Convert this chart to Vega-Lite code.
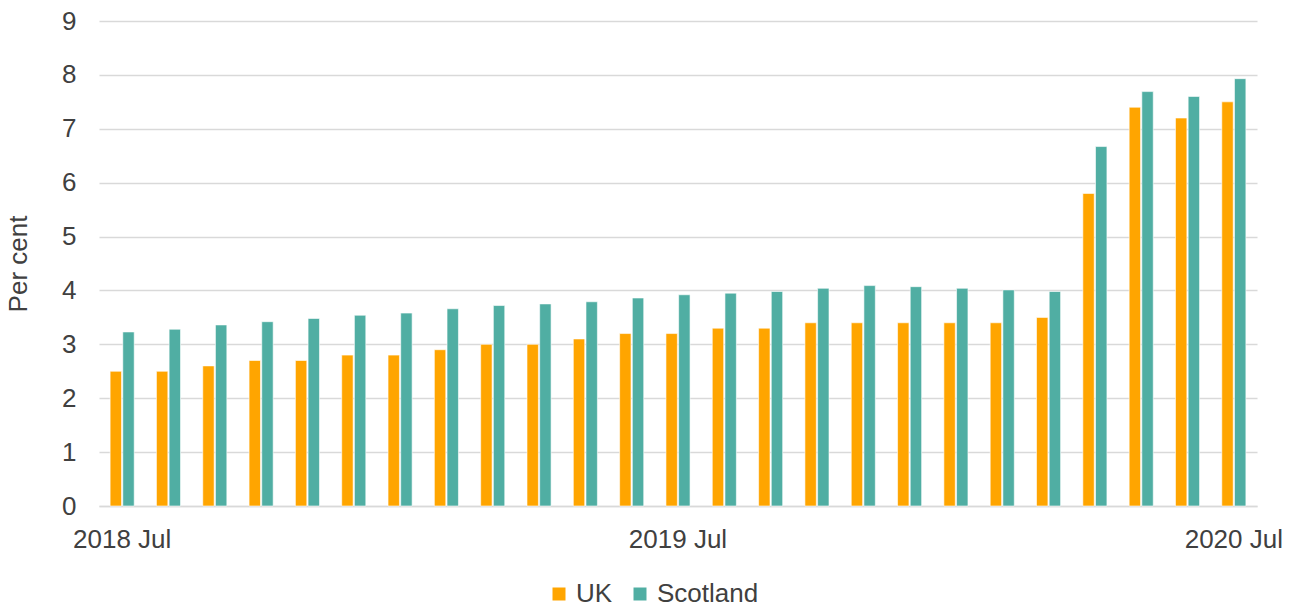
{
  "$schema": "https://vega.github.io/schema/vega-lite/v6.json",
  "width": 1158,
  "height": 485,
  "autosize": {"type": "none"},
  "padding": {"left": 99, "top": 21, "right": 39, "bottom": 100},
  "background": "white",
  "config": {
    "font": "Liberation Sans",
    "view": {"stroke": null}
  },
  "data": {
    "values": [
      {"month": "2018 Jul", "series": "UK", "value": 2.5}, {"month": "2018 Jul", "series": "Scotland", "value": 3.23},
      {"month": "2018 Aug", "series": "UK", "value": 2.5}, {"month": "2018 Aug", "series": "Scotland", "value": 3.28},
      {"month": "2018 Sep", "series": "UK", "value": 2.6}, {"month": "2018 Sep", "series": "Scotland", "value": 3.36},
      {"month": "2018 Oct", "series": "UK", "value": 2.7}, {"month": "2018 Oct", "series": "Scotland", "value": 3.42},
      {"month": "2018 Nov", "series": "UK", "value": 2.7}, {"month": "2018 Nov", "series": "Scotland", "value": 3.48},
      {"month": "2018 Dec", "series": "UK", "value": 2.8}, {"month": "2018 Dec", "series": "Scotland", "value": 3.54},
      {"month": "2019 Jan", "series": "UK", "value": 2.8}, {"month": "2019 Jan", "series": "Scotland", "value": 3.58},
      {"month": "2019 Feb", "series": "UK", "value": 2.9}, {"month": "2019 Feb", "series": "Scotland", "value": 3.66},
      {"month": "2019 Mar", "series": "UK", "value": 3.0}, {"month": "2019 Mar", "series": "Scotland", "value": 3.72},
      {"month": "2019 Apr", "series": "UK", "value": 3.0}, {"month": "2019 Apr", "series": "Scotland", "value": 3.75},
      {"month": "2019 May", "series": "UK", "value": 3.1}, {"month": "2019 May", "series": "Scotland", "value": 3.79},
      {"month": "2019 Jun", "series": "UK", "value": 3.2}, {"month": "2019 Jun", "series": "Scotland", "value": 3.86},
      {"month": "2019 Jul", "series": "UK", "value": 3.2}, {"month": "2019 Jul", "series": "Scotland", "value": 3.92},
      {"month": "2019 Aug", "series": "UK", "value": 3.3}, {"month": "2019 Aug", "series": "Scotland", "value": 3.95},
      {"month": "2019 Sep", "series": "UK", "value": 3.3}, {"month": "2019 Sep", "series": "Scotland", "value": 3.98},
      {"month": "2019 Oct", "series": "UK", "value": 3.4}, {"month": "2019 Oct", "series": "Scotland", "value": 4.04},
      {"month": "2019 Nov", "series": "UK", "value": 3.4}, {"month": "2019 Nov", "series": "Scotland", "value": 4.09},
      {"month": "2019 Dec", "series": "UK", "value": 3.4}, {"month": "2019 Dec", "series": "Scotland", "value": 4.07},
      {"month": "2020 Jan", "series": "UK", "value": 3.4}, {"month": "2020 Jan", "series": "Scotland", "value": 4.04},
      {"month": "2020 Feb", "series": "UK", "value": 3.4}, {"month": "2020 Feb", "series": "Scotland", "value": 4.01},
      {"month": "2020 Mar", "series": "UK", "value": 3.5}, {"month": "2020 Mar", "series": "Scotland", "value": 3.98},
      {"month": "2020 Apr", "series": "UK", "value": 5.8}, {"month": "2020 Apr", "series": "Scotland", "value": 6.67},
      {"month": "2020 May", "series": "UK", "value": 7.4}, {"month": "2020 May", "series": "Scotland", "value": 7.69},
      {"month": "2020 Jun", "series": "UK", "value": 7.2}, {"month": "2020 Jun", "series": "Scotland", "value": 7.6},
      {"month": "2020 Jul", "series": "UK", "value": 7.5}, {"month": "2020 Jul", "series": "Scotland", "value": 7.93}
    ]
  },
  "mark": {"type": "bar", "stroke": "white", "strokeWidth": 0.6},
  "encoding": {
    "x": {
      "field": "month",
      "type": "ordinal",
      "sort": null,
      "scale": {"paddingInner": 0.48, "paddingOuter": 0.24},
      "axis": {
        "title": null,
        "labelAngle": 0,
        "labelExpr": "indexof(datum.value, 'Jul') >= 0 ? datum.value : ''",
        "labelFontSize": 26,
        "labelColor": "#404040",
        "labelPadding": 20,
        "ticks": false,
        "domainColor": "#D9D9D9",
        "domainWidth": 1.5,
        "labelOverlap": false
      }
    },
    "xOffset": {
      "field": "series",
      "type": "nominal",
      "sort": ["UK", "Scotland"],
      "scale": {"paddingInner": 0.1}
    },
    "y": {
      "field": "value",
      "type": "quantitative",
      "scale": {"domain": [0, 9], "nice": false},
      "axis": {
        "title": "Per cent",
        "titleFontSize": 26,
        "titleFontWeight": "normal",
        "titleColor": "#404040",
        "titlePadding": 30,
        "values": [0, 1, 2, 3, 4, 5, 6, 7, 8, 9],
        "labelFontSize": 26,
        "labelColor": "#404040",
        "labelPadding": 23,
        "ticks": false,
        "domain": false,
        "gridColor": "#D9D9D9",
        "gridWidth": 1.5
      }
    },
    "color": {
      "field": "series",
      "type": "nominal",
      "sort": ["UK", "Scotland"],
      "scale": {"domain": ["UK", "Scotland"], "range": ["#FFA500", "#50AEA3"]},
      "legend": {
        "title": null,
        "orient": "none",
        "direction": "horizontal",
        "legendX": 447,
        "legendY": 560,
        "symbolType": "square",
        "symbolSize": 169,
        "symbolStrokeWidth": 0,
        "labelFontSize": 26,
        "labelColor": "#404040",
        "labelOffset": 4,
        "columnPadding": 14,
        "labelLimit": 300
      }
    }
  }
}
